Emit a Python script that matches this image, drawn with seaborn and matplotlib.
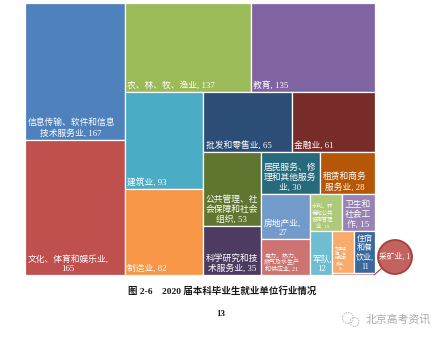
import matplotlib
matplotlib.use("Agg")
import matplotlib.pyplot as plt
from matplotlib.patches import Rectangle, Circle, Ellipse
from matplotlib.lines import Line2D
import seaborn as sns

# 2020 undergraduate employment by industry (number of graduates)
industries = [
    "信息传输、软件和信息技术服务业", "文化、体育和娱乐业", "农、林、牧、渔业", "教育",
    "建筑业", "制造业", "批发和零售业", "金融业", "公共管理、社会保障和社会组织",
    "科学研究和技术服务业", "居民服务、修理和其他服务业", "租赁和商务服务业", "房地产业",
    "电力、热力、燃气及水生产和供应业", "水利、环境和公共设施管理业", "卫生和社会工作",
    "军队", "交通运输、仓储和邮政业", "住宿和餐饮业", "采矿业",
]
counts = [167, 165, 137, 135, 93, 82, 65, 61, 53, 35, 30, 28, 27, 21, 15, 15, 12, 11, 11, 1]

tile_colors = [
    "#4F81BD", "#C0504D", "#9BBB59", "#8064A2", "#4BACC6", "#F79646",
    "#2C4D75", "#772C2A", "#5F7530", "#4D3B62", "#276A7C", "#B65708",
    "#729ACA", "#CD7371", "#AFC97A", "#9983B5", "#6FBDD1", "#F9AB6B",
    "#3A679C", "#D08A87",
]

# characters per label line (CJK = 1) and label font sizes for the narrow tiles
wrap_chars = {
    "信息传输、软件和信息技术服务业": 10, "文化、体育和娱乐业": 10,
    "公共管理、社会保障和社会组织": 6, "科学研究和技术服务业": 6,
    "居民服务、修理和其他服务业": 6, "租赁和商务服务业": 5, "房地产业": 5,
    "电力、热力、燃气及水生产和供应业": 6, "水利、环境和公共设施管理业": 4,
    "卫生和社会工作": 3, "军队": 3, "交通运输、仓储和邮政业": 3, "住宿和餐饮业": 2,
}
label_size = {
    "电力、热力、燃气及水生产和供应业": 4.3,
    "水利、环境和公共设施管理业": 3.9,
    "交通运输、仓储和邮政业": 2.9,
    "住宿和餐饮业": 5.8,
}
DEFAULT_SIZE = 6.3
NO_LINE_START = {",", "、"}   # punctuation that never begins a line
HANGING = {","}               # punctuation allowed to hang past the line width


def worst(row, side):
    s = sum(row)
    return max(max(side * side * r / (s * s), s * s / (side * side * r)) for r in row)


def squarify(areas, x, y, w, h):
    """Squarified treemap layout (y grows downward)."""
    rects = []
    i, n = 0, len(areas)
    while i < n:
        side = min(w, h)
        row = [areas[i]]
        j = i + 1
        while j < n and worst(row + [areas[j]], side) <= worst(row, side):
            row.append(areas[j])
            j += 1
        s = sum(row)
        if w >= h:
            cw = s / h
            yy = y
            for a in row:
                rects.append((x, yy, cw, a / cw))
                yy += a / cw
            x += cw
            w -= cw
        else:
            rh = s / w
            xx = x
            for a in row:
                rects.append((xx, y, a / rh, rh))
                xx += a / rh
            y += rh
            h -= rh
        i = j
    return rects


def text_width(s):
    return sum(0 if c in HANGING else (0.5 if ord(c) < 128 else 1) for c in s)


def wrap_label(name, value, width):
    tokens = []
    for c in name + ",":
        if c in NO_LINE_START and tokens:
            tokens[-1] += c
        else:
            tokens.append(c)
    tokens.append(f" {value}")
    lines, cur = [], ""
    for tok in tokens:
        if cur and text_width(cur + tok) > width:
            lines.append(cur)
            cur = tok.lstrip()
        else:
            cur += tok
    lines.append(cur)
    return "\n".join(lines)


sns.set_theme(style="white")
plt.rcParams["font.family"] = ["Liberation Serif", "Noto Sans CJK SC"]

W, H = 350.0, 272.0
fig = plt.figure(figsize=(4.46, 3.39), dpi=100)
fig.patch.set_facecolor("white")
ax = fig.add_axes([25 / 446, (339 - 275) / 339, W / 446, H / 339])
ax.set_xlim(0, W)
ax.set_ylim(H, 0)
ax.axis("off")

total = sum(counts)
areas = [c * W * H / total for c in counts]
rects = squarify(areas, 0.0, 0.0, W, H)

for name, val, col, (x, y, w, h) in zip(industries, counts, tile_colors, rects):
    ax.add_patch(Rectangle((x, y), w, h, facecolor=col, edgecolor="white", linewidth=0.9))
    if val < 5:
        continue
    label = wrap_label(name, val, wrap_chars.get(name, 40))
    ax.text(x + 2.5, y + h - 2.2, label, ha="left", va="bottom", multialignment="center",
            color="white", fontsize=label_size.get(name, DEFAULT_SIZE), linespacing=1.22)

# callout bubble for the smallest tile
sx, sy, sw, sh = rects[-1]
cx, cy, r = sx + sw + 20, sy + sh - 18, 17
dx, dy = (sx + sw - 1) - cx, (sy + sh) - cy
d = (dx * dx + dy * dy) ** 0.5
ax.add_line(Line2D([sx + sw - 1, cx + dx / d * r], [sy + sh, cy + dy / d * r],
                   color="#A5403D", linewidth=0.8, clip_on=False))
ax.add_patch(Circle((cx, cy), r, facecolor="#C4625F", edgecolor="#A5403D",
                    linewidth=1.3, clip_on=False))
ax.text(cx, cy, f"{industries[-1]}, {counts[-1]}", ha="center", va="center",
        color="white", fontsize=5.6, clip_on=False)

fig.text(222 / 446, 1 - 291 / 339, "图 2-6\u30002020 届本科毕业生就业单位行业情况",
         ha="center", va="center", fontsize=6.8, fontweight="bold", color="#1a1a1a")
fig.text(221 / 446, 1 - 314 / 339, "13", ha="center", va="center",
         fontsize=6.5, fontweight="bold", color="#1a1a1a")

# account mark
for (ex, ey, er) in [(348, 318, 5.5), (354.5, 322, 4.5)]:
    fig.add_artist(Ellipse((ex / 446, 1 - ey / 339), 2 * er / 446, 2 * er / 339,
                           transform=fig.transFigure, facecolor="none",
                           edgecolor="#b5b5b5", linewidth=0.7, linestyle=(0, (1.5, 1.2))))
fig.text(366 / 446, 1 - 320 / 339, "北京高考资讯", ha="left", va="center",
         fontsize=7.8, color="#a8a8a8", family=["Noto Sans CJK SC"])

fig.savefig("out.png", dpi=100, facecolor="white")
